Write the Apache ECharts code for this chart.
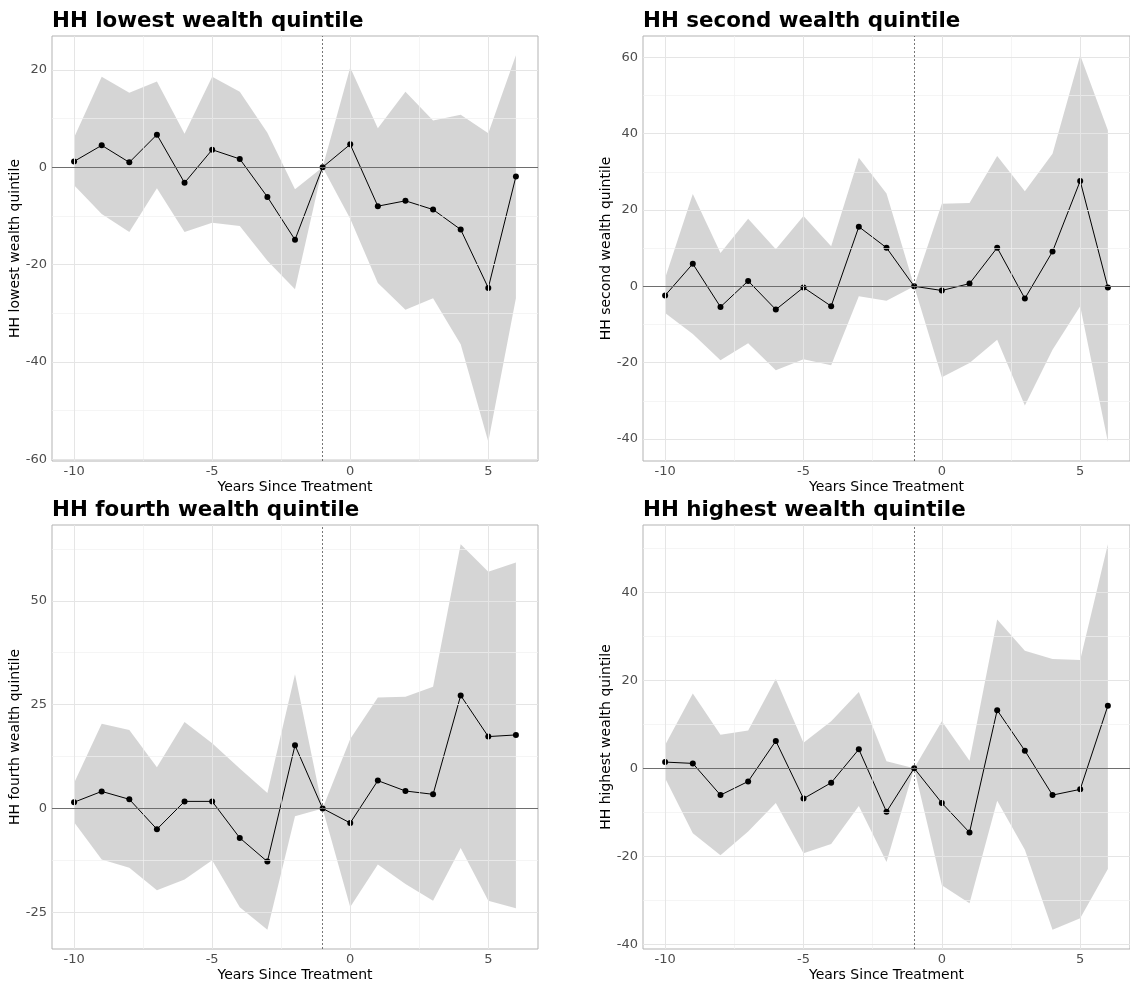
<!DOCTYPE html>
<html>
<head>
<meta charset="utf-8">
<script src="https://cdn.jsdelivr.net/npm/echarts@6/dist/echarts.min.js"></script>
<style>
html,body{margin:0;padding:0;background:#fff;}
#chart{width:1130px;height:983px;}
</style>
</head>
<body>
<div id="chart"></div>
<script>
// ---- data ----
const years = [-10, -9, -8, -7, -6, -5, -4, -3, -2, -1, 0, 1, 2, 3, 4, 5, 6];

const titles = ['HH lowest wealth quintile', 'HH second wealth quintile', 'HH fourth wealth quintile', 'HH highest wealth quintile'];

const lowestEst = [1.2, 4.5, 1.0, 6.7, -3.2, 3.6, 1.7, -6.1, -14.9, 0, 4.7, -8.0, -6.9, -8.7, -12.8, -24.8, -1.9];
const lowestHi  = [6.1, 18.6, 15.3, 17.6, 6.9, 18.6, 15.5, 7.1, -4.5, 0, 20.5, 8.0, 15.5, 9.6, 10.8, 7.0, 23.0];
const lowestLo  = [-3.7, -9.6, -13.3, -4.3, -13.3, -11.4, -12.1, -19.2, -25.1, 0, -10.6, -23.8, -29.3, -26.9, -36.4, -56.4, -26.9];

const secondEst = [-2.4, 5.9, -5.4, 1.4, -6.1, -0.3, -5.2, 15.6, 10.1, 0, -1.1, 0.7, 10.1, -3.2, 9.1, 27.6, -0.3];
const secondHi  = [2.2, 24.2, 8.7, 17.7, 9.7, 18.4, 10.5, 33.7, 24.3, 0, 21.6, 21.8, 34.1, 24.9, 34.7, 60.5, 40.9];
const secondLo  = [-7.0, -12.5, -19.4, -14.9, -22.0, -19.1, -20.7, -2.6, -3.8, 0, -23.8, -20.1, -14.0, -31.2, -16.6, -5.2, -40.7];

const fourthEst = [1.5, 4.1, 2.2, -5.0, 1.7, 1.7, -7.1, -12.8, 15.2, 0, -3.5, 6.7, 4.2, 3.4, 27.2, 17.3, 17.7];
const fourthHi  = [6.1, 20.4, 18.9, 9.9, 20.8, 15.7, 9.6, 3.7, 32.3, 0, 16.7, 26.7, 26.9, 29.3, 63.6, 57.0, 59.2];
const fourthLo  = [-3.3, -12.3, -14.3, -19.7, -17.1, -12.5, -23.8, -29.2, -1.9, 0, -23.7, -13.5, -18.2, -22.2, -9.5, -22.2, -24.0];

const highestEst = [1.4, 1.1, -6.1, -3.0, 6.2, -6.9, -3.3, 4.3, -9.9, 0, -7.9, -14.6, 13.2, 4.0, -6.1, -4.8, 14.2];
const highestHi  = [5.3, 17.0, 7.6, 8.6, 20.3, 5.8, 10.7, 17.3, 1.6, 0, 10.7, 1.7, 33.8, 26.7, 24.8, 24.6, 50.9];
const highestLo  = [-2.3, -14.8, -19.8, -14.4, -7.9, -19.3, -17.2, -8.6, -21.3, 0, -26.6, -30.7, -7.4, -18.5, -36.7, -34.1, -22.9];

const xTicks = [-10, -5, 0, 5];
const xMinor = [-7.5, -2.5, 2.5];
const yTicks1 = [-60, -40, -20, 0, 20];
const yMinor1 = [-50, -30, -10, 10];
const yTicks2 = [-40, -20, 0, 20, 40, 60];
const yMinor2 = [-30, -10, 10, 30, 50];
const yTicks3 = [-25, 0, 25, 50];
const yMinor3 = [-12.5, 12.5, 37.5, 62.5];
const yTicks4 = [-40, -20, 0, 20, 40];
const yMinor4 = [-30, -10, 10, 30, 50];

const treatLine = -1;

// ---- build ----
const panels = [
  {title: titles[0], est: lowestEst, hi: lowestHi, lo: lowestLo, ticks: yTicks1, minor: yMinor1},
  {title: titles[1], est: secondEst, hi: secondHi, lo: secondLo, ticks: yTicks2, minor: yMinor2},
  {title: titles[2], est: fourthEst, hi: fourthHi, lo: fourthLo, ticks: yTicks3, minor: yMinor3},
  {title: titles[3], est: highestEst, hi: highestHi, lo: highestLo, ticks: yTicks4, minor: yMinor4}
];
const boxes = [
  {left: 52, top: 36, width: 486, height: 425},
  {left: 643, top: 36, width: 487, height: 425},
  {left: 52, top: 525, width: 486, height: 425},
  {left: 643, top: 525, width: 487, height: 425}
];
const FONT = 'DejaVu Sans';
const xMin = years[0] - 0.05 * (years[years.length - 1] - years[0]);
const xMax = years[years.length - 1] + 0.05 * (years[years.length - 1] - years[0]);

const option = {
  backgroundColor: '#ffffff',
  animation: false,
  title: [], grid: [], xAxis: [], yAxis: [], series: []
};

panels.forEach((p, i) => {
  const b = boxes[i];
  const hiMax = Math.max(...p.hi), loMin = Math.min(...p.lo);
  const r = hiMax - loMin;
  const yMin = loMin - 0.05 * r, yMax = hiMax + 0.05 * r;

  option.title.push({
    text: p.title, left: b.left, top: b.top - 25, padding: 0,
    textStyle: {fontFamily: FONT, fontWeight: 'bold', fontSize: 21.4, color: '#000'}
  });
  option.grid.push({
    left: b.left, top: b.top, width: b.width, height: b.height,
    show: true, borderColor: '#b3b3b3', borderWidth: 1, backgroundColor: 'transparent'
  });
  option.xAxis.push({
    type: 'value', gridIndex: i, min: xMin, max: xMax,
    name: 'Years Since Treatment', nameLocation: 'middle', nameGap: 19,
    nameTextStyle: {fontFamily: FONT, fontSize: 14, color: '#000'},
    axisLine: {show: false},
    axisTick: {show: true, length: 3, customValues: xTicks, lineStyle: {color: '#b3b3b3'}},
    axisLabel: {customValues: xTicks, fontFamily: FONT, fontSize: 13, color: '#4d4d4d', margin: 4},
    splitLine: {show: false}
  });
  option.yAxis.push({
    type: 'value', gridIndex: i, min: yMin, max: yMax,
    name: p.title, nameLocation: 'middle', nameRotate: 90, nameGap: 26,
    nameTextStyle: {fontFamily: FONT, fontSize: 14, color: '#000'},
    axisLine: {show: false},
    axisTick: {show: true, length: 3, customValues: p.ticks, lineStyle: {color: '#b3b3b3'}},
    axisLabel: {customValues: p.ticks, fontFamily: FONT, fontSize: 13, color: '#4d4d4d', margin: 5},
    splitLine: {show: false}
  });

  // grid lines
  const gridLines = [];
  xMinor.forEach(v => gridLines.push({xAxis: v, lineStyle: {color: '#f0f0f0', width: 0.7, type: 'solid'}}));
  p.minor.forEach(v => gridLines.push({yAxis: v, lineStyle: {color: '#f0f0f0', width: 0.7, type: 'solid'}}));
  xTicks.forEach(v => gridLines.push({xAxis: v, lineStyle: {color: '#e5e5e5', width: 1, type: 'solid'}}));
  p.ticks.forEach(v => gridLines.push({yAxis: v, lineStyle: {color: '#e5e5e5', width: 1, type: 'solid'}}));
  option.series.push({
    type: 'line', xAxisIndex: i, yAxisIndex: i, data: [], z: 0, silent: true,
    markLine: {silent: true, symbol: ['none', 'none'], label: {show: false}, animation: false, data: gridLines}
  });

  // ribbon
  option.series.push({
    type: 'custom', xAxisIndex: i, yAxisIndex: i, z: 1, silent: true,
    data: [[years[0], p.lo[0]]],
    renderItem: function (params, api) {
      const pts = [];
      for (let k = 0; k < years.length; k++) pts.push(api.coord([years[k], p.hi[k]]));
      for (let k = years.length - 1; k >= 0; k--) pts.push(api.coord([years[k], p.lo[k]]));
      return {type: 'polygon', shape: {points: pts}, style: {fill: 'rgba(160,160,160,0.44)'}};
    }
  });

  // reference lines + estimate line
  option.series.push({
    type: 'line', xAxisIndex: i, yAxisIndex: i, z: 3,
    data: years.map((x, k) => [x, p.est[k]]),
    symbol: 'circle', symbolSize: 6, showSymbol: true,
    itemStyle: {color: '#000', borderWidth: 0},
    lineStyle: {color: '#000', width: 1},
    markLine: {
      silent: true, symbol: ['none', 'none'], label: {show: false}, animation: false,
      data: [
        {yAxis: 0, lineStyle: {color: '#6e6e6e', width: 1, type: 'solid'}},
        {xAxis: treatLine, lineStyle: {color: '#555555', width: 0.8, type: [2, 2]}}
      ]
    }
  });
});

const chart = echarts.init(document.getElementById('chart'), null, {renderer: 'canvas'});
chart.setOption(option);
</script>
</body>
</html>
